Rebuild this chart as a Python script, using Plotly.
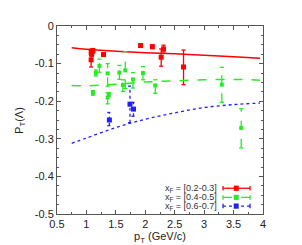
import plotly.graph_objects as go

# ---- data ----
red_x = [1.08, 1.11, 1.09, 1.08, 1.29, 1.92, 2.12, 2.27, 2.31, 2.65]
red_y = [-0.070, -0.066, -0.075, -0.090, -0.076, -0.052, -0.055, -0.083, -0.061, -0.109]
red_lo = [-0.078, -0.072, -0.080, -0.109, -0.080, -0.056, -0.060, -0.107, -0.069, -0.156]
red_hi = [-0.062, -0.060, -0.070, -0.076, -0.072, -0.049, -0.051, -0.061, -0.051, -0.064]

grn_x = [1.11, 1.16, 1.22, 1.36, 1.36, 1.38, 1.56, 1.62, 1.66, 1.79, 1.96, 2.17, 3.30, 3.63]
grn_y = [-0.178, -0.125, -0.106, -0.126, -0.190, -0.182, -0.124, -0.157, -0.118, -0.142, -0.125, -0.158, -0.156, -0.271]
grn_lo = [-0.184, -0.133, -0.123, -0.160, -0.207, -0.187, -0.142, -0.174, -0.166, -0.165, -0.143, -0.179, -0.203, -0.324]
grn_hi = [-0.172, -0.117, -0.088, -0.100, -0.178, -0.177, -0.105, -0.143, -0.068, -0.124, -0.108, -0.143, -0.110, -0.220]

blu_x = [1.39, 1.74, 1.80]
blu_y = [-0.250, -0.208, -0.221]
blu_lo = [-0.265, -0.257, -0.240]
blu_hi = [-0.230, -0.160, -0.203]

curve_x = [0.75, 1.0, 1.5, 2.0, 2.5, 3.0, 3.5, 3.95]
red_curve = [-0.058, -0.062, -0.067, -0.071, -0.074, -0.078, -0.082, -0.086]
grn_curve = [-0.158, -0.159, -0.155, -0.149, -0.146, -0.143, -0.142, -0.144]
blu_curve = [-0.312, -0.298, -0.270, -0.248, -0.231, -0.217, -0.209, -0.205]

x_ticks = [0.5, 1, 1.5, 2, 2.5, 3, 3.5, 4]
x_labels = ["0.5", "1", "1.5", "2", "2.5", "3", "3.5", "4"]
y_ticks = [0, -0.1, -0.2, -0.3, -0.4, -0.5]
y_labels = ["0", "-0.1", "-0.2", "-0.3", "-0.4", "-0.5"]

legend_labels = ["x<sub>F</sub> = [0.2-0.3]", "x<sub>F</sub> = [0.4-0.5]", "x<sub>F</sub> = [0.6-0.7]"]

RED, GRN, BLU = "#ff0000", "#22ee22", "#2020ff"
CAP = 0.035

def bars(xs, lo, hi):
    bx, by = [], []
    for x, l, h in zip(xs, lo, hi):
        bx += [x, x, None, x - CAP, x + CAP, None, x - CAP, x + CAP, None]
        by += [l, h, None, l, l, None, h, h, None]
    return bx, by

fig = go.Figure()
series = [
    (red_x, red_y, red_lo, red_hi, red_curve, RED, "solid", "square", 5),
    (grn_x, grn_y, grn_lo, grn_hi, grn_curve, GRN, "dash", "square", 4),
    (blu_x, blu_y, blu_lo, blu_hi, blu_curve, BLU, "dot", "square", 5),
]
for xs, ys, lo, hi, cv, col, dash, sym, ms in series:
    fig.add_trace(go.Scatter(x=curve_x, y=cv, mode="lines",
                             line=dict(color=col, width=1.5 if dash != "dot" else 1.3, dash=dash, shape="spline"),
                             showlegend=False, hoverinfo="skip"))
    bx, by = bars(xs, lo, hi)
    fig.add_trace(go.Scatter(x=bx, y=by, mode="lines", line=dict(color=col, width=1.3, dash=dash),
                             showlegend=False, hoverinfo="skip"))
    fig.add_trace(go.Scatter(x=xs, y=ys, mode="markers", marker=dict(color=col, size=ms, symbol=sym),
                             showlegend=False))

# custom gnuplot-like legend (text left, sample right)
leg_y = [0.137, 0.088, 0.042]
cols = [RED, GRN, BLU]
dashes = ["solid", "dash", "dot"]
for lab, yy, col, dsh in zip(legend_labels, leg_y, cols, dashes):
    fig.add_annotation(x=0.787, y=yy, xref="paper", yref="paper", text=lab, showarrow=False,
                       xanchor="right", yanchor="middle", font=dict(size=9, color="#333333"))
    fig.add_shape(type="line", xref="paper", yref="paper", x0=0.806, x1=0.937, y0=yy, y1=yy,
                  line=dict(color=col, width=1.3, dash=dsh))
    for xe in (0.806, 0.937):
        fig.add_shape(type="line", xref="paper", yref="paper", x0=xe, x1=xe, y0=yy - 0.012, y1=yy + 0.012,
                      line=dict(color=col, width=1.3))
    fig.add_shape(type="rect", xref="paper", yref="paper", x0=0.858, x1=0.882, y0=yy - 0.014, y1=yy + 0.014,
                  fillcolor=col, line=dict(width=0))

# y-axis title placed like gnuplot's
fig.add_annotation(x=-0.18, y=0.5, xref="paper", yref="paper", text="P<sub>T</sub>(Λ)", showarrow=False,
                   textangle=-90, xanchor="center", yanchor="middle", font=dict(size=11, color="#222222"))

axis_common = dict(showgrid=False, zeroline=False, showline=True, linecolor="#555555", linewidth=1,
                   mirror="ticks", ticks="inside", ticklen=4, tickcolor="#555555",
                   tickfont=dict(family="Liberation Sans, Arial, sans-serif", size=11, color="#222222"))
fig.update_xaxes(range=[0.5, 4], tickvals=x_ticks, ticktext=x_labels,
                 minor=dict(dtick=0.25, ticks="inside", ticklen=2, tickcolor="#555555"),
                 title=dict(text="p<sub>T</sub> (GeV/c)", font=dict(size=11, color="#222222"), standoff=3),
                 **axis_common)
fig.update_yaxes(range=[-0.5, 0], tickvals=y_ticks, ticktext=y_labels,
                 minor=dict(dtick=0.025, ticks="inside", ticklen=2, tickcolor="#555555"),
                 **axis_common)
fig.update_layout(width=302, height=245, margin=dict(l=49, r=47, t=12, b=29),
                  paper_bgcolor="white", plot_bgcolor="white",
                  font=dict(family="Liberation Sans, Arial, sans-serif"))
fig.write_html("out.html")
